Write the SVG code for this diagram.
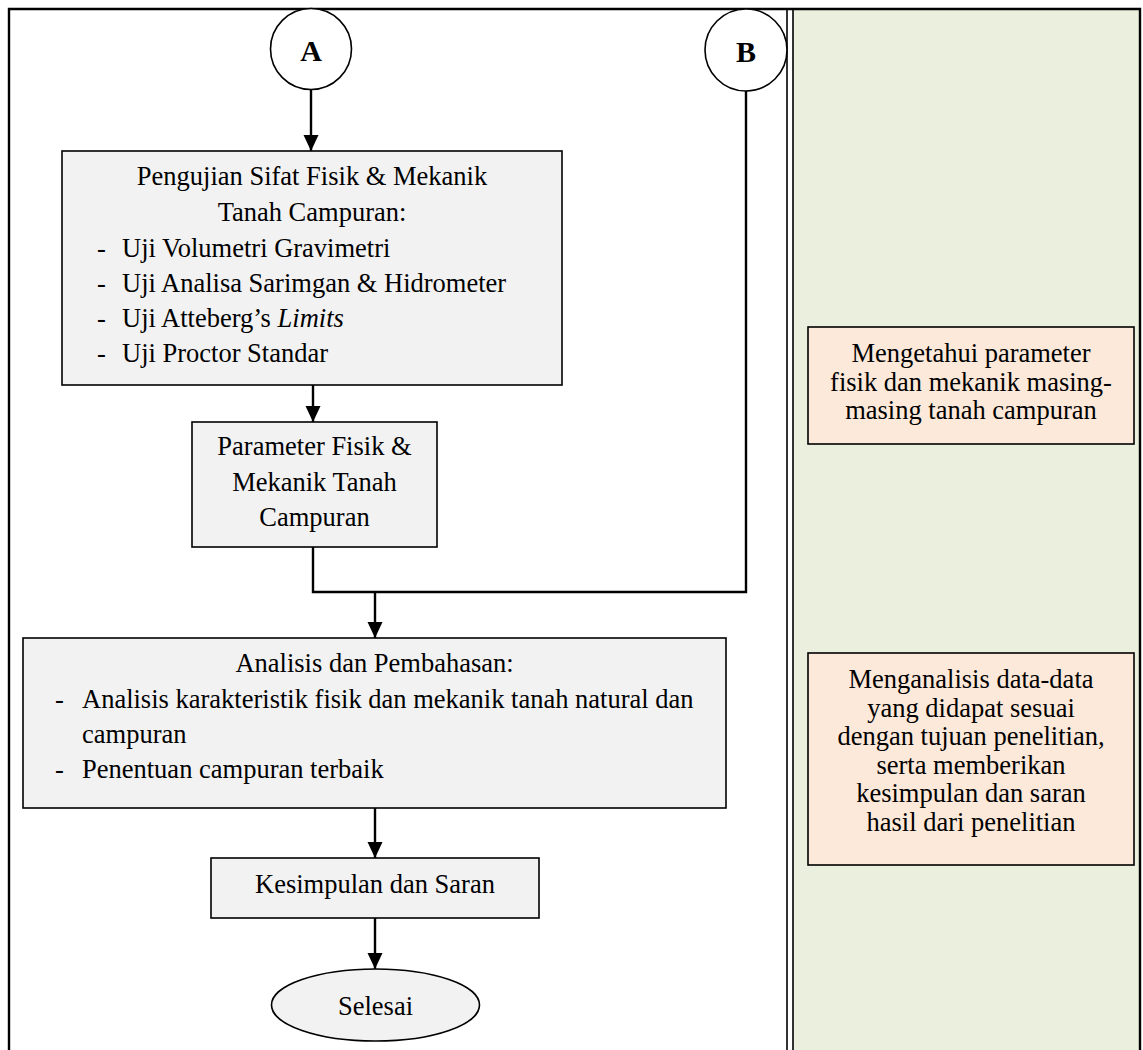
<svg xmlns="http://www.w3.org/2000/svg" width="1143" height="1050" viewBox="0 0 1143 1050">
<style>
text{font-family:"Liberation Serif","Times New Roman",serif;font-size:26.5px;fill:#000}
.c{text-anchor:middle}
.box{fill:#F2F2F2;stroke:#000;stroke-width:1.6}
.note{fill:#FDE9D9;stroke:#000;stroke-width:1.6}
.circ{fill:#fff;stroke:#000;stroke-width:1.6}
.lbl{font-weight:bold;font-size:30px}
.conn{fill:none;stroke:#000;stroke-width:2.4}
.frame{fill:none;stroke:#000;stroke-width:2.4}
</style>
<defs>
<marker id="ah" markerUnits="userSpaceOnUse" markerWidth="16" markerHeight="16" viewBox="0 0 16 16" refX="16" refY="8" orient="auto">
<path d="M0,0.5 L16,8 L0,15.5 Z" fill="#000"/>
</marker>
</defs>
<rect x="0" y="0" width="1143" height="1050" fill="#fff"/>
<g id="panels">
<rect x="793" y="9" width="347" height="1041" fill="#EBEFDE"/>
<path class="frame" d="M9,1050 V9 H1140 V1050"/>
<line x1="787" y1="9" x2="787" y2="1050" stroke="#000" stroke-width="1.6"/>
<line x1="793" y1="9" x2="793" y2="1050" stroke="#000" stroke-width="1.6"/>
</g>
<g id="connectors">
<path class="conn" d="M311,89 V151" marker-end="url(#ah)"/>
<path class="conn" d="M313,385 V422" marker-end="url(#ah)"/>
<path class="conn" d="M313,547 V592 H746 V90"/>
<path class="conn" d="M375,592 V638" marker-end="url(#ah)"/>
<path class="conn" d="M375,808 V858" marker-end="url(#ah)"/>
<path class="conn" d="M375,918 V969" marker-end="url(#ah)"/>
</g>
<g id="nodeA">
<circle class="circ" cx="311" cy="49" r="40.5"/>
<text class="c lbl" x="311" y="61">A</text>
</g>
<g id="nodeB">
<circle class="circ" cx="746" cy="50" r="41"/>
<text class="c lbl" x="746" y="62">B</text>
</g>
<g id="pengujian">
<rect class="box" x="62" y="151" width="500" height="234"/>
<text class="c" x="312" y="185">Pengujian Sifat Fisik &amp; Mekanik</text>
<text class="c" x="312" y="221">Tanah Campuran:</text>
<text x="97" y="257">-</text><text x="122" y="257">Uji Volumetri Gravimetri</text>
<text x="97" y="292">-</text><text x="122" y="292">Uji Analisa Sarimgan &amp; Hidrometer</text>
<text x="97" y="327">-</text><text x="122" y="327">Uji Atteberg’s <tspan font-style="italic">Limits</tspan></text>
<text x="97" y="362">-</text><text x="122" y="362">Uji Proctor Standar</text>
</g>
<g id="parameter">
<rect class="box" x="192" y="422" width="245" height="125"/>
<text class="c" x="314.5" y="455">Parameter Fisik &amp;</text>
<text class="c" x="314.5" y="491">Mekanik Tanah</text>
<text class="c" x="314.5" y="526">Campuran</text>
</g>
<g id="analisis">
<rect class="box" x="23" y="638" width="703" height="170"/>
<text class="c" x="374.5" y="672">Analisis dan Pembahasan:</text>
<text x="55" y="708">-</text><text x="82" y="708">Analisis karakteristik fisik dan mekanik tanah natural dan</text>
<text x="82" y="743">campuran</text>
<text x="55" y="778">-</text><text x="82" y="778">Penentuan campuran terbaik</text>
</g>
<g id="kesimpulan">
<rect class="box" x="211" y="858" width="328" height="60"/>
<text class="c" x="375" y="893">Kesimpulan dan Saran</text>
</g>
<g id="selesai">
<ellipse class="box" cx="375.5" cy="1005" rx="104" ry="36"/>
<text class="c" x="375.5" y="1015">Selesai</text>
</g>
<g id="note1">
<rect class="note" x="808" y="327" width="326" height="117"/>
<text class="c" x="971" y="362">Mengetahui parameter</text>
<text class="c" x="971" y="390.5">fisik dan mekanik masing-</text>
<text class="c" x="971" y="419">masing tanah campuran</text>
</g>
<g id="note2">
<rect class="note" x="808" y="653" width="326" height="212"/>
<text class="c" x="971" y="688">Menganalisis data-data</text>
<text class="c" x="971" y="716.5">yang didapat sesuai</text>
<text class="c" x="971" y="745">dengan tujuan penelitian,</text>
<text class="c" x="971" y="773.5">serta memberikan</text>
<text class="c" x="971" y="802">kesimpulan dan saran</text>
<text class="c" x="971" y="830.5">hasil dari penelitian</text>
</g>
</svg>
